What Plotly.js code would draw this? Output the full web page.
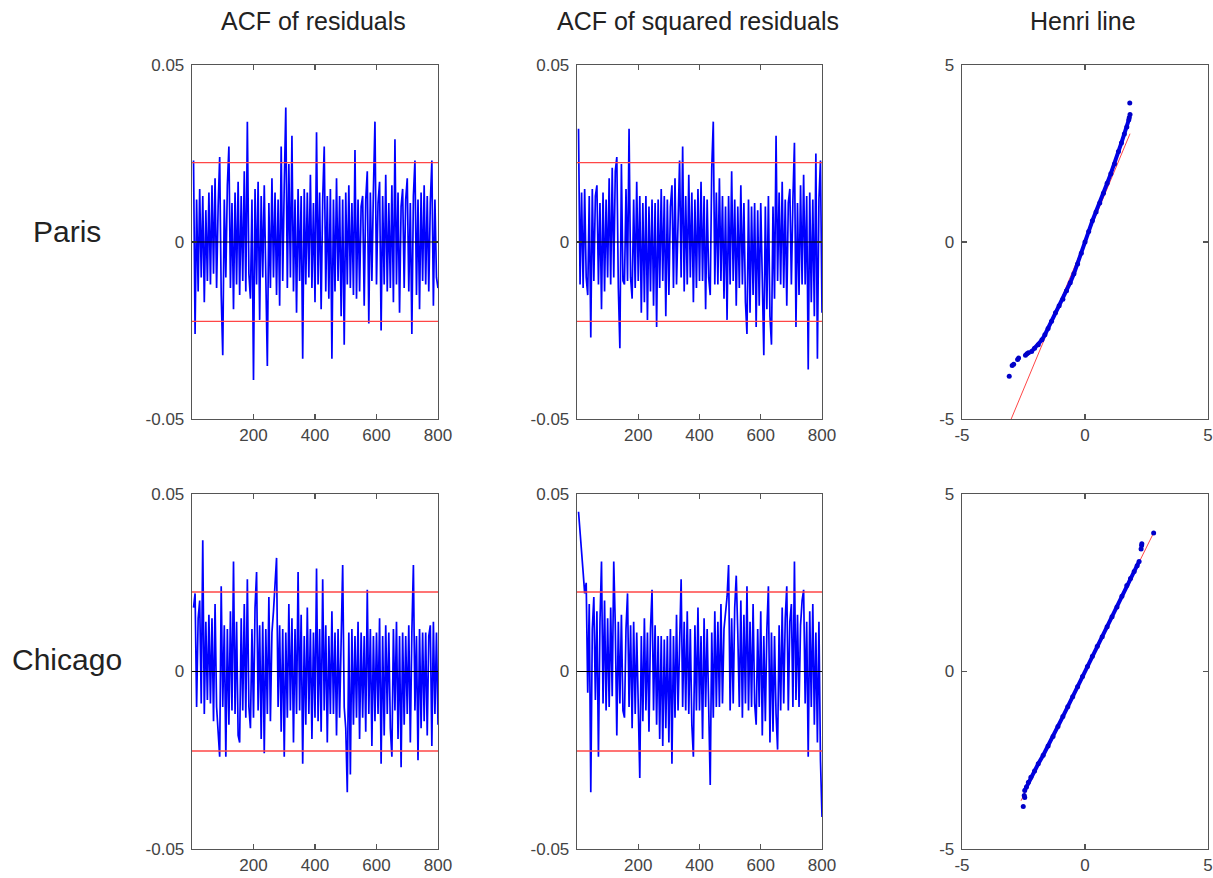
<!DOCTYPE html>
<html><head><meta charset="utf-8">
<script src="https://cdn.plot.ly/plotly-3.0.1.min.js"></script>
<style>html,body{margin:0;padding:0;background:#fff}</style>
</head><body><div id="chart" style="width:1213px;height:878px"></div>
<script>
// ---------- DATA ----------
const rowLabels = ['Paris', 'Chicago'];
const colTitles = ['ACF of residuals', 'ACF of squared residuals', 'Henri line'];
// lags (every 5th lag, 5..800)
const lags = Array.from({length: 160}, (_, i) => (i + 1) * 5);
// autocorrelation values, in thousandths
const acfResParis = [
 23,-26,12,-14,15,-10,13,-17,9,-11,
 14,-12,16,-9,18,-13,10,24,-15,-32,
 12,-10,16,27,-13,11,-19,14,-12,17,
 -15,13,-11,20,-14,34,-9,-16,12,-39,
 15,-12,17,-22,13,-10,16,-14,-35,11,
 -13,18,-10,14,-15,12,-18,27,-11,16,
 38,-13,22,-10,30,-14,12,-20,15,-11,
 13,-33,15,-12,14,-10,19,-13,11,-17,
 31,-12,14,-19,12,27,-14,13,-16,15,
 -33,12,-14,18,-11,13,-21,12,-29,14,
 -12,16,-13,11,-15,26,-16,12,-14,10,
 13,-18,12,20,-23,14,-11,15,34,-12,
 11,17,-25,13,-12,19,-14,11,-13,16,
 -17,29,-12,14,-20,10,15,-13,12,18,
 -14,11,-26,13,23,-15,12,-19,14,-11,
 16,-12,13,-14,11,23,-18,12,-10,-13];
const acfSqParis = [
 32,-12,14,-13,15,-10,-15,13,-27,15,
 -11,13,16,-12,11,-19,14,-14,12,-10,
 18,-12,21,-10,20,24,-13,-30,22,-11,
 -12,15,-11,32,-10,-16,12,-13,17,-11,
 13,-20,11,-17,13,-22,10,-14,12,-18,
 11,-24,12,-13,15,-11,13,-21,12,-15,
 10,16,-13,18,-12,11,23,-10,27,-14,
 13,-12,19,-10,14,-17,12,-13,15,-11,
 17,-11,13,-19,12,-10,-15,21,34,-12,
 14,-12,18,-11,13,-16,10,-22,13,-12,
 20,-11,12,-18,10,-13,16,-12,11,-17,
 -26,12,-20,10,-15,11,-24,9,-18,11,
 -14,-32,10,-19,13,-21,-29,10,-16,30,
 -11,14,-12,17,-13,12,-18,11,15,-12,
 12,28,-24,11,-15,16,-12,19,-12,13,
 -36,14,-17,12,-21,25,-33,12,23,-20];
const acfResChicago = [
 18,22,-10,15,20,-9,37,-12,14,-8,
 16,-9,15,-14,19,-10,-17,-24,24,-10,
 13,-24,12,-15,17,-11,31,-12,14,-18,
 -20,15,-11,19,-13,26,-10,-16,12,-13,
 18,28,-11,13,-19,14,-23,12,-12,21,
 -14,11,17,25,32,-10,13,-17,12,-24,
 11,-13,19,-11,15,-20,12,-12,28,-11,
 16,-26,10,-15,18,-12,12,-19,11,-13,
 29,-14,12,-17,26,-11,13,-20,10,-12,
 17,-12,11,-18,12,-13,15,30,-10,-16,
 -34,11,-29,12,-15,10,-13,14,-19,11,
 -13,10,-17,23,-12,12,-21,10,-14,11,
 -12,15,-26,10,-18,13,-12,11,-16,-24,
 12,-11,14,-19,10,-27,11,-15,10,-12,
 13,-20,11,30,-11,10,-25,12,-16,11,
 -14,11,-18,10,13,-21,14,-12,11,-15];
const acfSqChicago = [
 45,40,33,28,22,25,-6,19,-34,12,
 21,-8,17,-24,14,31,-9,20,-11,15,
 -10,18,-7,31,13,-18,14,-9,16,-11,
 -13,12,22,-10,13,-16,14,-12,11,-12,
 -30,10,-14,15,-11,11,-17,12,23,-11,
 13,-15,10,-19,10,-21,9,-16,10,-20,
 12,-26,10,-13,16,-11,11,26,-10,14,
 -11,17,-12,12,-15,-24,13,-11,18,-11,
 10,-19,15,-10,12,-16,-32,11,-13,17,
 -10,14,-10,19,-9,12,16,21,30,-11,
 15,-9,18,27,11,-10,20,-13,16,-9,
 24,-11,14,-10,19,-9,-15,12,-10,17,
 -18,10,-14,12,24,-20,11,-17,10,-12,
 -22,13,-11,18,-9,15,24,-11,14,19,
 -10,31,-8,16,-10,13,20,23,-9,14,
 -24,17,-10,19,-15,11,-20,14,-25,-41];
const confBound = 0.0224;
// Henri line (normal QQ) data: theoretical quantile (x) vs sample quantile (y)
const qqParisX = [-2.17,-2.05,-1.9,-1.75,-1.63,-1.5,-1.36,-1.2,-1.05,-0.9,-0.75,-0.6,-0.45,-0.3,-0.15,0,0.15,0.3,0.45,0.6,0.75,0.9,1.05,1.2,1.36,1.48,1.6,1.7,1.78];
const qqParisY = [-3.09,-3.0,-2.9,-2.76,-2.62,-2.44,-2.24,-2.0,-1.8,-1.62,-1.38,-1.15,-0.9,-0.62,-0.32,0,0.3,0.6,0.85,1.1,1.38,1.66,1.93,2.2,2.56,2.8,3.05,3.25,3.45];
const qqParisTailX = [-3.08,-2.96,-2.9,-2.74,-2.70,-2.42,-2.36,-2.3,1.80,1.83,1.82];
const qqParisTailY = [-3.79,-3.49,-3.45,-3.32,-3.28,-3.2,-3.16,-3.13,3.52,3.6,3.93];
const refLineParisX = [-3.0, 1.83];
const refLineParisY = [-5.0, 3.06];
const qqChicagoX = [-2.45,-2.38,-2.3,-2.2,-2.05,-1.9,-1.7,-1.5,-1.3,-1.1,-0.9,-0.7,-0.5,-0.3,-0.1,0.1,0.3,0.5,0.7,0.9,1.1,1.3,1.5,1.7,1.85,2.0,2.12,2.2];
const qqChicagoY = [-3.35,-3.25,-3.12,-2.98,-2.8,-2.6,-2.36,-2.1,-1.83,-1.55,-1.27,-0.99,-0.71,-0.43,-0.14,0.14,0.43,0.71,0.98,1.26,1.54,1.82,2.12,2.42,2.62,2.82,2.98,3.1];
const qqChicagoTailX = [-2.51,-2.47,-2.45,2.28,2.30,2.31,2.79];
const qqChicagoTailY = [-3.80,-3.49,-3.55,3.45,3.55,3.6,3.90];
const refLineChicagoX = [-2.6, 2.8];
const refLineChicagoY = [-3.64, 3.92];
const acfXTicks = [200, 400, 600, 800];
const acfYTicks = [-0.05, 0, 0.05];
const acfYTickText = ['-0.05', '0', '0.05'];
const qqTicks = [-5, 0, 5];
const qqTickText = ['-5', '0', '5'];

// ---------- BUILD ----------
const FONT = 'Liberation Sans, Arial, Helvetica, sans-serif';
const BLUE = 'rgb(0,0,255)';
const RED = 'rgb(255,70,70)';

function acfLine(vals, xa, ya) {
  return {type: 'scatter', mode: 'lines', x: lags, y: vals.map(v => v / 1000),
    xaxis: xa, yaxis: ya, line: {color: BLUE, width: 1.7}, hoverinfo: 'skip'};
}
function qq(mx, my, tx, ty, lx, ly, xa, ya) {
  return [
    {type: 'scatter', mode: 'lines', x: lx, y: ly, xaxis: xa, yaxis: ya,
      line: {color: RED, width: 1}, hoverinfo: 'skip'},
    {type: 'scatter', mode: 'lines+markers', x: mx, y: my, xaxis: xa, yaxis: ya,
      line: {color: 'rgb(0,0,230)', width: 4}, marker: {color: 'rgb(0,0,210)', size: 5}, hoverinfo: 'skip'},
    {type: 'scatter', mode: 'markers', x: tx, y: ty, xaxis: xa, yaxis: ya,
      marker: {color: 'rgb(0,0,200)', size: 5}, hoverinfo: 'skip'}
  ];
}

const data = [
  acfLine(acfResParis, 'x', 'y'),
  acfLine(acfSqParis, 'x2', 'y2'),
  ...qq(qqParisX, qqParisY, qqParisTailX, qqParisTailY, refLineParisX, refLineParisY, 'x3', 'y3'),
  acfLine(acfResChicago, 'x4', 'y4'),
  acfLine(acfSqChicago, 'x5', 'y5'),
  ...qq(qqChicagoX, qqChicagoY, qqChicagoTailX, qqChicagoTailY, refLineChicagoX, refLineChicagoY, 'x6', 'y6')
];

const W = 1213, H = 878;
const colPx = [[192, 438], [577, 822], [962, 1208]];
const rowPx = [[65, 419], [494, 849]];
const axBase = {
  showline: true, linecolor: '#555', linewidth: 1.3, mirror: 'ticks',
  ticks: 'inside', ticklen: 5, tickcolor: '#555', tickwidth: 1.3,
  showgrid: false, zeroline: false, fixedrange: true,
  tickfont: {family: FONT, size: 17, color: '#444'}
};
const layout = {
  width: W, height: H, margin: {l: 0, r: 0, t: 0, b: 0},
  paper_bgcolor: '#fff', plot_bgcolor: '#fff', showlegend: false,
  font: {family: FONT}, shapes: [], annotations: []
};
for (let r = 0; r < 2; r++) {
  for (let c = 0; c < 3; c++) {
    const n = r * 3 + c + 1;
    const sx = n === 1 ? '' : String(n);
    const xd = [colPx[c][0] / W, colPx[c][1] / W];
    const yd = [1 - rowPx[r][1] / H, 1 - rowPx[r][0] / H];
    const isQQ = c === 2;
    layout['xaxis' + sx] = Object.assign({}, axBase, {
      domain: xd, anchor: 'y' + sx,
      range: isQQ ? [-5, 5] : [0, 800],
      tickmode: 'array', tickvals: isQQ ? qqTicks : acfXTicks,
      ticktext: isQQ ? qqTickText : acfXTicks.map(String)
    });
    layout['yaxis' + sx] = Object.assign({}, axBase, {
      domain: yd, anchor: 'x' + sx,
      range: isQQ ? [-5, 5] : [-0.05, 0.05],
      tickmode: 'array', tickvals: isQQ ? qqTicks : acfYTicks,
      ticktext: isQQ ? qqTickText : acfYTickText,
      ticklabelstandoff: 3
    });
    if (!isQQ) {
      [confBound, -confBound].forEach(b => layout.shapes.push({
        type: 'line', xref: 'x' + sx + ' domain', yref: 'y' + sx,
        x0: 0, x1: 1, y0: b, y1: b, layer: 'above', line: {color: RED, width: 1.3}
      }));
      layout.shapes.push({
        type: 'line', xref: 'x' + sx + ' domain', yref: 'y' + sx,
        x0: 0, x1: 1, y0: 0, y1: 0, layer: 'above', line: {color: '#000', width: 1}
      });
    }
  }
}
const titleX = [313.5, 697.5, 1082.5];
colTitles.forEach((t, i) => layout.annotations.push({
  text: t, xref: 'paper', yref: 'paper', x: titleX[i] / W, y: 1 - 21 / H,
  xanchor: 'center', yanchor: 'middle', showarrow: false,
  font: {family: FONT, size: 25, color: '#222'}
}));
const rowY = [231, 659];
rowLabels.forEach((t, i) => layout.annotations.push({
  text: t, xref: 'paper', yref: 'paper', x: 67 / W, y: 1 - rowY[i] / H,
  xanchor: 'center', yanchor: 'middle', showarrow: false,
  font: {family: FONT, size: 30, color: '#222'}
}));

Plotly.newPlot('chart', data, layout, {staticPlot: true, displayModeBar: false});
</script>
</body></html>
